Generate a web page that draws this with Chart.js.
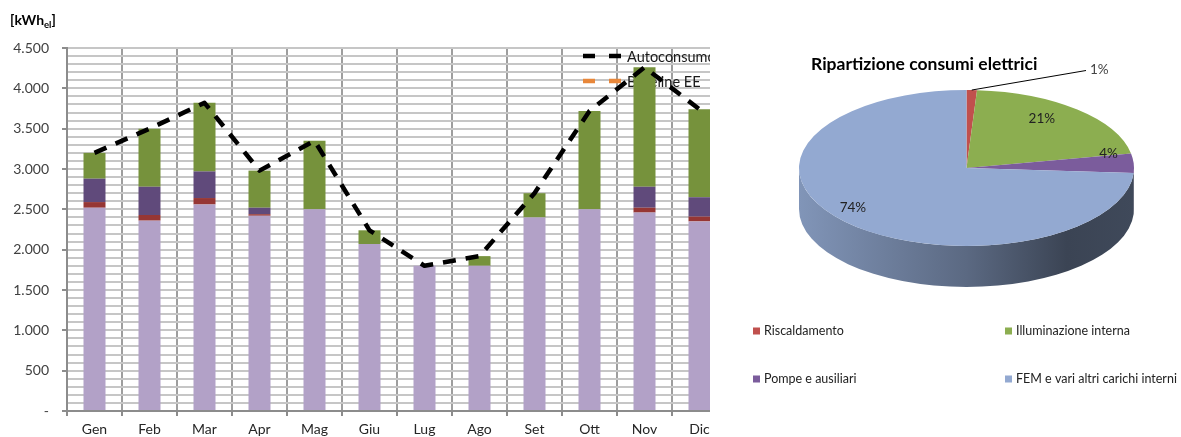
<!DOCTYPE html>
<html>
<head>
<meta charset="utf-8">
<script src="https://cdn.jsdelivr.net/npm/chart.js@4.4.1/dist/chart.umd.min.js"></script>
<style>
  html, body { margin: 0; padding: 0; background: #fff; }
  #wrap { position: relative; width: 1181px; height: 437px; overflow: hidden; }
  #barBox { position: absolute; left: 0; top: 0; width: 710px; height: 437px; overflow: hidden; }
  #pieBox { position: absolute; left: 740px; top: 0; width: 441px; height: 437px; }
  canvas { display: block; }
</style>
</head>
<body>
<div id="wrap">
  <div id="barBox"><canvas id="bar" width="727" height="437" style="width:727px;height:437px"></canvas></div>
  <div id="pieBox"><canvas id="pie" width="441" height="437" style="width:441px;height:437px"></canvas></div>
</div>
<script>
// Monthly electricity use [kWh_el]
const months = ['Gen', 'Feb', 'Mar', 'Apr', 'Mag', 'Giu', 'Lug', 'Ago', 'Set', 'Ott', 'Nov', 'Dic'];
const femAltriCarichi = [2520, 2360, 2560, 2420, 2500, 2070, 1800, 1800, 2400, 2500, 2460, 2350];
const riscaldamento   = [70, 70, 80, 20, 0, 0, 0, 0, 0, 0, 60, 60];
const pompeAusiliari  = [290, 350, 330, 80, 0, 0, 0, 0, 0, 0, 260, 240];
const illuminazione   = [320, 720, 850, 460, 850, 170, 0, 120, 300, 1220, 1480, 1090];
const autoconsumo     = [3200, 3500, 3820, 2980, 3350, 2240, 1800, 1920, 2700, 3720, 4260, 3740];
const baselineEE      = [null, null, null, null, null, null, null, null, null, null, null, null];

// Yearly split (%)
const pieLabels = ['Riscaldamento', 'Illuminazione interna', 'Pompe e ausiliari', 'FEM e vari altri carichi interni'];
const pieShares = [1, 21, 4, 74];

const FONT = 'Lato, "Open Sans", sans-serif';
const fmtIt = v => String(v).replace(/\B(?=(\d{3})+(?!\d))/g, '.');

// ---------- stacked bars + consumption line ----------
const lineLegend = {
  id: 'lineLegend',
  beforeDatasetsDraw(chart, args, o) {
    const ctx = chart.ctx;
    const lines = chart.data.datasets.filter(d => d.type === 'line');
    ctx.save();
    ctx.font = '14.5px ' + FONT;
    ctx.textBaseline = 'middle';
    ctx.textAlign = 'left';
    lines.forEach((d, i) => {
      const y = o.y + i * o.gap;
      ctx.strokeStyle = d.borderColor;
      ctx.lineWidth = d.borderWidth;
      ctx.setLineDash(o.dash);
      ctx.beginPath();
      ctx.moveTo(o.x, y);
      ctx.lineTo(o.x + o.len, y);
      ctx.stroke();
      ctx.setLineDash([]);
      ctx.fillStyle = '#1a1a1a';
      ctx.fillText(d.label, o.x + o.len + 5, y + 1);
    });
    ctx.restore();
  }
};

const unitTitle = {
  id: 'unitTitle',
  afterDraw(chart, args, o) {
    const ctx = chart.ctx;
    ctx.save();
    ctx.fillStyle = '#000';
    ctx.textBaseline = 'alphabetic';
    ctx.textAlign = 'left';
    let x = o.x;
    ctx.font = 'bold 14px ' + FONT;
    ctx.fillText('[kWh', x, o.y);
    x += ctx.measureText('[kWh').width;
    ctx.font = 'bold 9.5px ' + FONT;
    ctx.fillText('el', x, o.y + 3);
    x += ctx.measureText('el').width;
    ctx.font = 'bold 14px ' + FONT;
    ctx.fillText(']', x, o.y);
    ctx.restore();
  }
};

new Chart(document.getElementById('bar'), {
  data: {
    labels: months,
    datasets: [
      { type: 'line', label: 'Autoconsumo', data: autoconsumo, borderColor: '#000000', borderWidth: 4.5,
        borderDash: [13, 10], borderJoinStyle: 'round', pointRadius: 0, tension: 0, fill: false, order: 0 },
      { type: 'line', label: 'Baseline EE', data: baselineEE, borderColor: '#E8873A', borderWidth: 4.5,
        borderDash: [13, 10], borderJoinStyle: 'round', pointRadius: 0, tension: 0, fill: false, order: 1 },
      { type: 'bar', label: 'FEM e vari altri carichi interni', data: femAltriCarichi, backgroundColor: '#B2A1C7', order: 2 },
      { type: 'bar', label: 'Riscaldamento', data: riscaldamento, backgroundColor: '#963634', order: 2 },
      { type: 'bar', label: 'Pompe e ausiliari', data: pompeAusiliari, backgroundColor: '#604A7B', order: 2 },
      { type: 'bar', label: 'Illuminazione interna', data: illuminazione, backgroundColor: '#76923C', order: 2 }
    ]
  },
  options: {
    responsive: false,
    animation: false,
    events: [],
    layout: { padding: { top: 48, left: 0, right: 0, bottom: 0 } },
    datasets: { bar: { categoryPercentage: 1, barPercentage: 0.4, borderWidth: 0 } },
    plugins: {
      legend: { display: false },
      tooltip: { enabled: false },
      lineLegend: { x: 583, y: 56, gap: 25, len: 39, dash: [12, 14] },
      unitTitle: { x: 10, y: 25 }
    },
    scales: {
      x: {
        stacked: true,
        grid: { offset: true, color: '#9e9e9e', lineWidth: 2, tickLength: 5, tickColor: '#8c8c8c' },
        border: { color: '#8c8c8c', width: 2 },
        ticks: { font: { family: FONT, size: 14 }, color: '#262626', padding: 5, maxRotation: 0, autoSkip: false },
        afterFit(s) { s.height = 26; }
      },
      y: {
        stacked: true,
        min: 0,
        max: 4500,
        grid: {
          color: '#c6c6c6', lineWidth: 2, tickLength: 5,
          tickColor: c => (c.tick && c.tick.value % 500 === 0) ? '#8c8c8c' : 'rgba(0,0,0,0)'
        },
        border: { color: '#8c8c8c', width: 2 },
        ticks: {
          stepSize: 100, maxTicksLimit: 100, autoSkip: false, padding: 13,
          font: { family: FONT, size: 14 }, color: '#404040',
          callback: v => v === 0 ? '-' : (v % 500 === 0 ? fmtIt(v) : '')
        },
        afterFit(s) { s.width = 67; }
      }
    }
  },
  plugins: [lineLegend, unitTitle]
});

// ---------- tilted pie ----------
function shade(hex, f) {
  const n = parseInt(hex.slice(1), 16);
  const r = Math.round(((n >> 16) & 255) * f), g = Math.round(((n >> 8) & 255) * f), b = Math.round((n & 255) * f);
  return `rgb(${r},${g},${b})`;
}

const pie3d = {
  id: 'pie3d',
  beforeDatasetsDraw(chart, args, o) {
    const ctx = chart.ctx;
    const arcs = chart.getDatasetMeta(0).data;
    const colors = chart.data.datasets[0].backgroundColor;
    // front wall of the disc, for the part of each slice facing the viewer
    arcs.forEach((a, i) => {
      const s = Math.max(a.startAngle, 0), e = Math.min(a.endAngle, Math.PI);
      if (e <= s) return;
      const g = ctx.createLinearGradient(o.cx - o.rx, 0, o.cx + o.rx, 0);
      g.addColorStop(0, shade(colors[i], 0.88));
      g.addColorStop(0.5, shade(colors[i], 0.62));
      g.addColorStop(0.8, shade(colors[i], 0.40));
      g.addColorStop(1, shade(colors[i], 0.43));
      ctx.beginPath();
      ctx.ellipse(o.cx, o.cy, o.rx, o.ry, 0, s, e, false);
      ctx.ellipse(o.cx, o.cy + o.depth, o.rx, o.ry, 0, e, s, true);
      ctx.closePath();
      ctx.fillStyle = g;
      ctx.fill();
    });
    const a0 = arcs[0];
    const R = a0.outerRadius;
    ctx.save();
    ctx.translate(o.cx, o.cy);
    ctx.scale(o.rx / R, o.ry / R);
    ctx.translate(-a0.x, -a0.y);
  },
  afterDatasetsDraw(chart, args, o) {
    const ctx = chart.ctx;
    ctx.restore();
    const arcs = chart.getDatasetMeta(0).data;
    const data = chart.data.datasets[0].data;
    const colors = chart.data.datasets[0].backgroundColor;

    // percentage labels
    ctx.save();
    ctx.font = '13.5px ' + FONT;
    ctx.fillStyle = '#222';
    ctx.textBaseline = 'middle';
    arcs.forEach((a, i) => {
      const m = (a.startAngle + a.endAngle) / 2;
      const txt = data[i] + '%';
      const f = o.labelRadius[i];
      if (f === null) {
        const px = o.cx + o.rx * Math.cos(m), py = o.cy + o.ry * Math.sin(m);
        ctx.strokeStyle = '#000';
        ctx.lineWidth = 1;
        ctx.beginPath();
        ctx.moveTo(px, py);
        ctx.lineTo(o.lead.x, o.lead.y);
        ctx.stroke();
        ctx.textAlign = 'left';
        ctx.fillStyle = '#444';
        ctx.fillText(txt, o.lead.x + 4, o.lead.y - 1);
        ctx.fillStyle = '#222';
      } else {
        ctx.textAlign = 'center';
        ctx.fillText(txt, o.cx + o.rx * f * Math.cos(m), o.cy + o.labelShift + o.ry * f * Math.sin(m));
      }
    });

    // title
    ctx.font = 'bold 17.5px ' + FONT;
    ctx.fillStyle = '#000';
    ctx.textAlign = 'left';
    ctx.fillText(o.title, o.titleX, o.titleY);

    // legend in two columns
    ctx.font = '12.5px ' + FONT;
    chart.data.labels.forEach((lab, i) => {
      const x = o.legendCols[i % 2], y = o.legendRows[Math.floor(i / 2)];
      ctx.fillStyle = colors[i];
      ctx.fillRect(x, y - 3.5, 7, 7);
      ctx.fillStyle = '#222';
      ctx.fillText(lab, x + 11, y);
    });
    ctx.restore();
  }
};

new Chart(document.getElementById('pie'), {
  type: 'pie',
  data: {
    labels: pieLabels,
    datasets: [{
      data: pieShares,
      backgroundColor: ['#C0504D', '#8CAE50', '#7B5C9C', '#93A9D1'],
      borderWidth: 0,
      clip: false
    }]
  },
  options: {
    responsive: false,
    animation: false,
    events: [],
    layout: { padding: 40 },
    plugins: {
      legend: { display: false },
      tooltip: { enabled: false },
      pie3d: {
        cx: 226.5, cy: 168, rx: 167.5, ry: 78, depth: 41,
        labelRadius: [null, 0.68, 0.85, 0.93], labelShift: -10,
        lead: { x: 346, y: 70.5 },
        title: 'Ripartizione consumi elettrici', titleX: 71, titleY: 64,
        legendCols: [13, 265], legendRows: [331, 379]
      }
    }
  },
  plugins: [pie3d]
});
</script>
</body>
</html>
